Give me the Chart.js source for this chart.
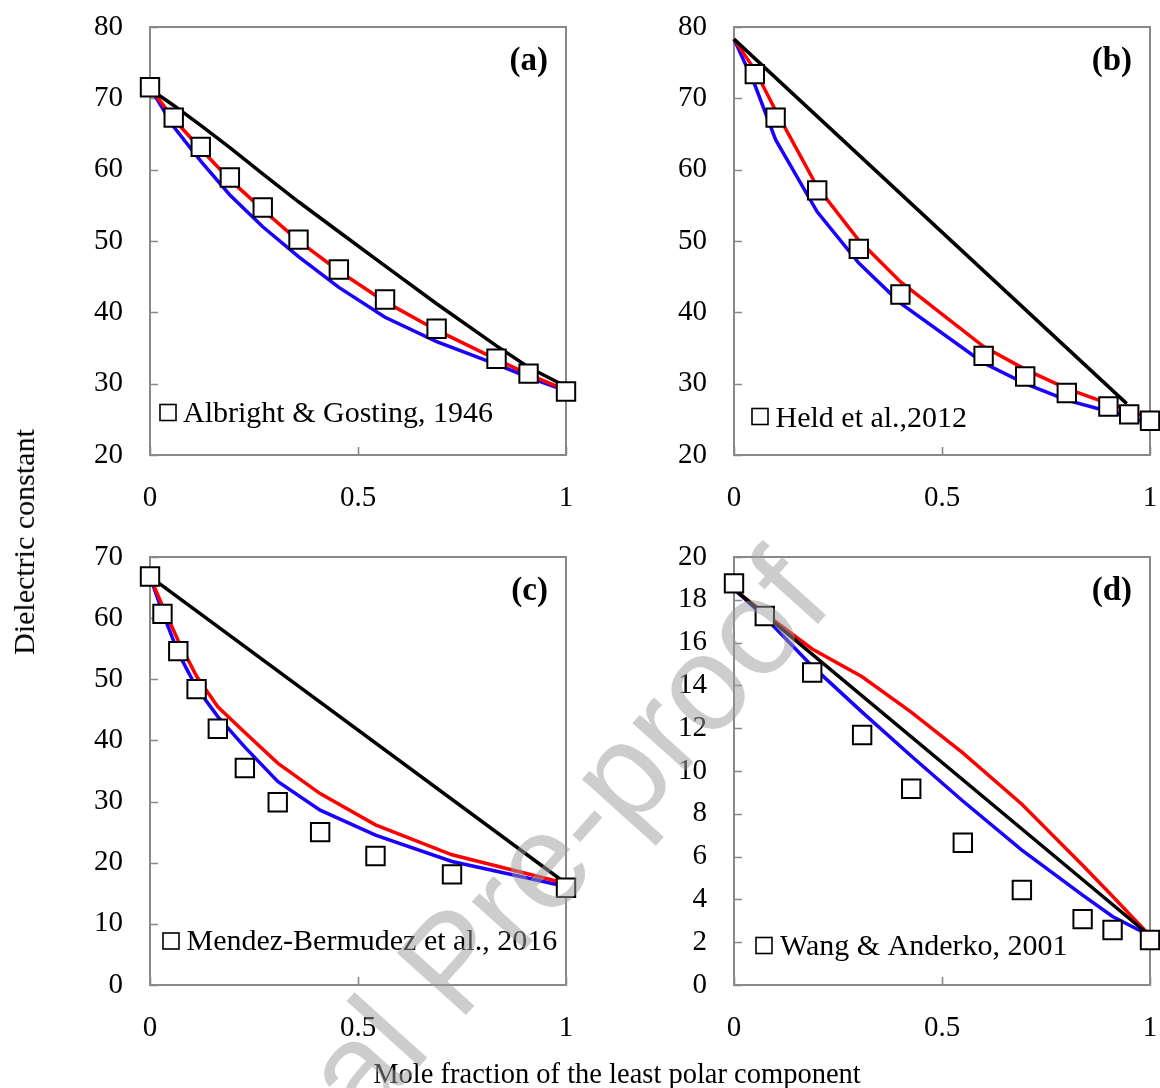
<!DOCTYPE html>
<html><head><meta charset="utf-8">
<script src="https://cdn.jsdelivr.net/npm/chart.js@4/dist/chart.umd.min.js"></script>
<style>
html,body{margin:0;padding:0;background:#fff}
body{width:1160px;height:1088px;position:relative;overflow:hidden}
canvas{position:absolute}
.t{position:absolute;font-family:'Liberation Serif','Times New Roman',serif;color:#000;white-space:nowrap}
</style></head>
<body>
<canvas id="ca" width="580" height="540" style="left:0;top:0"></canvas>
<canvas id="cb" width="570" height="540" style="left:590px;top:0"></canvas>
<canvas id="cc" width="580" height="548" style="left:0;top:540px"></canvas>
<canvas id="cd" width="570" height="548" style="left:590px;top:540px"></canvas>
<div class="t" id="ytitle" style="font-size:30px;line-height:30px;left:23.5px;top:541.5px;transform:translate(-50%,-50%) rotate(-90deg)">Dielectric constant</div>
<div class="t" id="xtitle" style="font-size:28.5px;line-height:29px;left:617px;top:1059px;transform:translateX(-50%)">Mole fraction of the least polar component</div>
<canvas id="wm" width="1160" height="1088" style="left:0;top:0;z-index:10;pointer-events:none"></canvas>
<script>
// ---------- data ----------
const xTicks = ['0', '0.5', '1'];

// (a) Albright & Gosting, 1946
const aX     = [0, 0.057, 0.122, 0.192, 0.271, 0.357, 0.454, 0.565, 0.689, 0.833, 0.910, 1.0];
const aExp   = [71.55, 67.3, 63.2, 58.9, 54.7, 50.2, 46.0, 41.8, 37.7, 33.5, 31.4, 28.9];
const aBlack = [71.3, 69.0, 66.2, 63.1, 59.4, 55.5, 51.3, 46.5, 41.2, 35.3, 32.3, 29.6];
const aRed   = [71.5, 67.1, 62.9, 58.6, 54.4, 50.0, 45.8, 41.5, 37.5, 33.4, 31.3, 29.1];
const aBlue  = [71.5, 66.0, 61.2, 56.45, 52.0, 47.8, 43.5, 39.3, 35.9, 32.7, 30.9, 29.0];

// (b) Held et al., 2012
const bX       = [0.05, 0.1, 0.2, 0.3, 0.4, 0.6, 0.7, 0.8, 0.9, 0.95, 1.0];
const bExp     = [73.4, 67.3, 57.1, 48.9, 42.5, 33.9, 31.0, 28.7, 26.8, 25.7, 24.8];
const bLineX   = [0, 0.05, 0.1, 0.2, 0.3, 0.4, 0.6, 0.7, 0.8, 0.9, 0.95, 1.0];
const bRed     = [78.3, 74.0, 68.3, 57.6, 50.1, 44.3, 35.2, 32.0, 29.3, 27.2, 26.3, 25.1];
const bBlue    = [78.3, 71.9, 64.2, 54.1, 46.9, 41.3, 32.9, 30.0, 27.7, 26.1, 25.4, 24.4];
const bBlackX  = [0, 0.944];
const bBlack   = [78.3, 27.2];

// (c) Mendez-Bermudez et al., 2016
const cX      = [0, 0.030, 0.068, 0.112, 0.163, 0.228, 0.307, 0.409, 0.542, 0.726, 1.0];
const cExp    = [66.8, 60.7, 54.6, 48.4, 41.9, 35.5, 29.9, 25.0, 21.1, 18.1, 15.9];
const cRed    = [66.8, 62.0, 56.3, 50.5, 45.5, 41.3, 36.3, 31.3, 26.2, 21.3, 16.6];
const cBlue   = [66.8, 61.0, 54.3, 48.6, 43.9, 38.9, 33.3, 28.6, 24.5, 20.2, 16.1];
const cBlackX = [0, 1.0];
const cBlack  = [66.8, 16.6];

// (d) Wang & Anderko, 2001
const dX      = [0, 0.074, 0.188, 0.308, 0.426, 0.550, 0.692, 0.838, 0.910, 1.0];
const dExp    = [18.77, 17.24, 14.6, 11.68, 9.17, 6.65, 4.44, 3.08, 2.57, 2.1];
const dRed    = [18.5, 17.35, 15.7, 14.4, 12.75, 10.85, 8.45, 5.6, 4.15, 2.3];
const dBlue   = [18.5, 17.2, 14.9, 12.75, 10.7, 8.6, 6.3, 4.2, 3.2, 2.3];
const dBlackX = [0, 1.0];
const dBlack  = [18.5, 2.3];

// ---------- drawing ----------
const FONT = "'Liberation Serif','Times New Roman',serif";
const pts = (xs, ys) => xs.map((x, i) => ({x, y: ys[i]}));

const framePlugin = {
  id: 'frame',
  beforeDatasetsDraw(chart, args, o) {
    const {ctx, chartArea: a} = chart;
    const x = chart.scales.x, y = chart.scales.y;
    ctx.save();
    ctx.strokeStyle = '#898989';
    ctx.lineWidth = 1.6;
    ctx.beginPath();
    y.ticks.forEach(t => { const py = Math.round(y.getPixelForValue(t.value)) + 0.5; ctx.moveTo(a.left, py); ctx.lineTo(a.left + 8, py); });
    x.ticks.forEach(t => { const px = Math.round(x.getPixelForValue(t.value)) + 0.5; ctx.moveTo(px, a.bottom); ctx.lineTo(px, a.bottom - 8); });
    ctx.stroke();
    ctx.lineWidth = 2;
    ctx.strokeRect(a.left, a.top, a.right - a.left, a.bottom - a.top);
    ctx.restore();
  },
  afterDraw(chart, args, o) {
    const {ctx, chartArea: a} = chart;
    ctx.save();
    // panel label
    ctx.font = 'bold 33px ' + FONT;
    ctx.fillStyle = '#000';
    ctx.textAlign = 'right';
    ctx.textBaseline = 'alphabetic';
    ctx.fillText(o.label, a.right - 18, a.top + 43);
    // legend
    const s = 16;
    const cx = a.left + o.sqDx, cy = a.bottom - o.sqDy;
    ctx.fillStyle = '#fff';
    ctx.fillRect(cx - s / 2, cy - s / 2, s, s);
    ctx.strokeStyle = '#000';
    ctx.lineWidth = 1.6;
    ctx.strokeRect(cx - s / 2, cy - s / 2, s, s);
    ctx.fillStyle = '#000';
    ctx.textAlign = 'left';
    ctx.font = '30px ' + FONT;
    ctx.fillText(chart.data.datasets[0].label, a.left + o.txDx, a.bottom - o.txDy);
    ctx.restore();
  }
};

function makePanel(id, cfg) {
  const expSet = {
    label: cfg.name, data: pts(cfg.expX, cfg.exp), showLine: false,
    pointStyle: 'rect', pointRadius: 13, pointHoverRadius: 13,
    pointBackgroundColor: '#fff', pointBorderColor: '#000', pointBorderWidth: 2, clip: false
  };
  const line = (label, xs, ys, color) => ({
    label, data: pts(xs, ys), showLine: true, borderColor: color, backgroundColor: color,
    borderWidth: 3.5, pointRadius: 0, pointHoverRadius: 0, tension: 0, clip: false
  });
  new Chart(document.getElementById(id), {
    type: 'scatter',
    data: {
      datasets: [
        expSet,
        line('Ideal mixing', cfg.blackX, cfg.black, '#000000'),
        line('Model (red)', cfg.lineX, cfg.red, '#ff0000'),
        line('Model (blue)', cfg.lineX, cfg.blue, '#1a00ff')
      ]
    },
    options: {
      responsive: false, animation: false, devicePixelRatio: 1, events: [],
      layout: {autoPadding: false, padding: {left: 0, top: cfg.padTop, right: cfg.padRight, bottom: 0}},
      plugins: {legend: {display: false}, tooltip: {enabled: false}, frame: cfg.frame},
      scales: {
        x: {
          type: 'linear', min: 0, max: 1,
          afterBuildTicks: s => { s.ticks = xTicks.map(v => ({value: parseFloat(v)})); },
          ticks: {callback: (v) => xTicks.find(t => parseFloat(t) === v), font: {family: FONT, size: 29}, color: '#000', padding: 26, maxRotation: 0, autoSkip: false},
          grid: {display: false, drawTicks: false}, border: {display: false},
          afterFit: s => { s.height = cfg.xH; s.paddingLeft = 0; s.paddingRight = 0; s.paddingTop = 0; s.paddingBottom = 0; }
        },
        y: {
          type: 'linear', min: cfg.yMin, max: cfg.yMax,
          ticks: {stepSize: cfg.yStep, font: {family: FONT, size: 29}, color: '#000', padding: 27, autoSkip: false},
          grid: {display: false, drawTicks: false}, border: {display: false},
          afterFit: s => { s.width = cfg.yW; s.paddingLeft = 0; s.paddingRight = 0; s.paddingTop = 0; s.paddingBottom = 0; }
        }
      }
    },
    plugins: [framePlugin]
  });
}

makePanel('ca', {name: 'Albright & Gosting, 1946', expX: aX, exp: aExp, lineX: aX, red: aRed, blue: aBlue, blackX: aX, black: aBlack,
  yMin: 20, yMax: 80, yStep: 10, yW: 150, xH: 85, padTop: 27, padRight: 14,
  frame: {label: '(a)', sqDx: 18, sqDy: 42.5, txDx: 33, txDy: 33.5}});
makePanel('cb', {name: 'Held et al.,2012', expX: bX, exp: bExp, lineX: bLineX, red: bRed, blue: bBlue, blackX: bBlackX, black: bBlack,
  yMin: 20, yMax: 80, yStep: 10, yW: 144, xH: 85, padTop: 27, padRight: 10,
  frame: {label: '(b)', sqDx: 26, sqDy: 38.5, txDx: 41.5, txDy: 28.5}});
makePanel('cc', {name: 'Mendez-Bermudez et al., 2016', expX: cX, exp: cExp, lineX: cX, red: cRed, blue: cBlue, blackX: cBlackX, black: cBlack,
  yMin: 0, yMax: 70, yStep: 10, yW: 150, xH: 103, padTop: 17, padRight: 14,
  frame: {label: '(c)', sqDx: 21, sqDy: 44, txDx: 36.5, txDy: 35}});
makePanel('cd', {name: 'Wang & Anderko, 2001', expX: dX, exp: dExp, lineX: dX, red: dRed, blue: dBlue, blackX: dBlackX, black: dBlack,
  yMin: 0, yMax: 20, yStep: 2, yW: 144, xH: 103, padTop: 17, padRight: 10,
  frame: {label: '(d)', sqDx: 30, sqDy: 39.5, txDx: 46, txDy: 30}});

// watermark
(function () {
  const c = document.getElementById('wm').getContext('2d');
  c.save();
  c.translate(835, 605);
  c.rotate(-48 * Math.PI / 180);
  c.font = "135px 'Liberation Sans', Arial, sans-serif";
  c.textAlign = 'right';
  c.textBaseline = 'alphabetic';
  c.fillStyle = 'rgba(155,155,155,0.5)';
  c.fillText('Journal Pre-proof', 0, 0);
  c.restore();
})();
</script>
</body></html>
